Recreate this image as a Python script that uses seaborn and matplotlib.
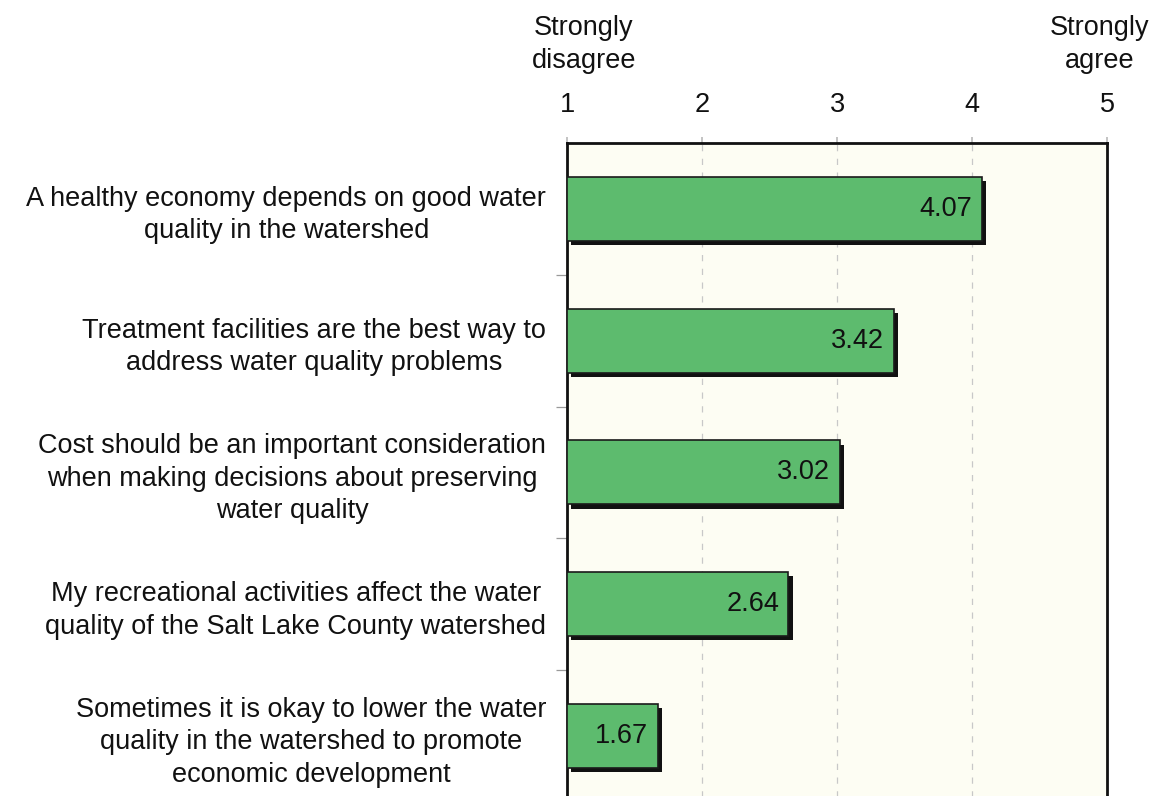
import matplotlib
matplotlib.use('Agg')
import matplotlib.pyplot as plt
import matplotlib.patheffects as pe
import pandas as pd
import seaborn as sns

# ── Data ──────────────────────────────────────────────
statements = [
    "A healthy economy depends on good water\nquality in the watershed",
    "Treatment facilities are the best way to\naddress water quality problems",
    "Cost should be an important consideration\nwhen making decisions about preserving\nwater quality",
    "My recreational activities affect the water\nquality of the Salt Lake County watershed",
    "Sometimes it is okay to lower the water\nquality in the watershed to promote\neconomic development",
]
means = [4.07, 3.42, 3.02, 2.64, 1.67]
scale_ticks = [1, 2, 3, 4, 5]
scale_ends = ["Strongly\ndisagree", "Strongly\nagree"]

df = pd.DataFrame({'statement': statements, 'mean': means})

sns.set_theme(style='white')
plt.rcParams['font.family'] = ['Liberation Sans', 'DejaVu Sans']
plt.rcParams['text.color'] = '#111111'
plt.rcParams['xtick.labelcolor'] = '#111111'
plt.rcParams['ytick.labelcolor'] = '#111111'
FS = 19.5

fig = plt.figure(figsize=(11.55, 7.96), dpi=100)
ax = fig.add_axes([0.491, -0.0075, 0.4675, 0.828])
ax.set_facecolor('#fdfdf3')

# bars start at 1 (strongly disagree)
df['len'] = df['mean'] - 1
sns.barplot(data=df, x='len', y='statement', left=1, color='#5dbb6e',
            saturation=1, width=0.485, edgecolor='#1a1a1a', linewidth=1.2,
            ax=ax, zorder=3)
for bar in ax.patches:
    bar.set_path_effects([pe.SimplePatchShadow(offset=(3, -3), shadow_rgbFace='#111111', alpha=1),
                          pe.Normal()])

for i, v in enumerate(means):
    ax.text(v - 0.07, i, f'{v:.2f}', ha='right', va='center', fontsize=FS, color='#111111', zorder=4)

ax.set_xlim(1, 5)
ax.set_ylim(len(statements) - 0.5, -0.5)
ax.set_xticks(scale_ticks)
ax.xaxis.tick_top()
ax.tick_params(axis='x', which='major', length=4, color='#bbbbbb', labelsize=FS, pad=14)
ax.grid(axis='x', color='#c8c8c8', linestyle=(0, (5, 6)), linewidth=0.9, zorder=0)
ax.set_xlabel('')
ax.set_ylabel('')

ax.set_yticks(range(len(statements)))
ax.set_yticklabels(statements)
ax.tick_params(axis='y', which='major', length=0, labelsize=FS, pad=15)
for lab in ax.get_yticklabels():
    lab.set_multialignment('center')
    lab.set_linespacing(1.32)
ax.set_yticks([i + 0.5 for i in range(len(statements) - 1)], minor=True)
ax.tick_params(axis='y', which='minor', left=True, length=8, width=0.9, color='#999999')

for side in ['top', 'left', 'right']:
    ax.spines[side].set_visible(True)
    ax.spines[side].set_color('#111111')
    ax.spines[side].set_linewidth(2)
ax.spines['bottom'].set_visible(False)

# end-point labels above the scale
ax.text(0.031, 1.105, scale_ends[0], transform=ax.transAxes,
        ha='center', va='bottom', fontsize=FS, linespacing=1.32)
ax.text(0.987, 1.105, scale_ends[1], transform=ax.transAxes,
        ha='center', va='bottom', fontsize=FS, linespacing=1.32)

fig.savefig('out.png', dpi=100)
